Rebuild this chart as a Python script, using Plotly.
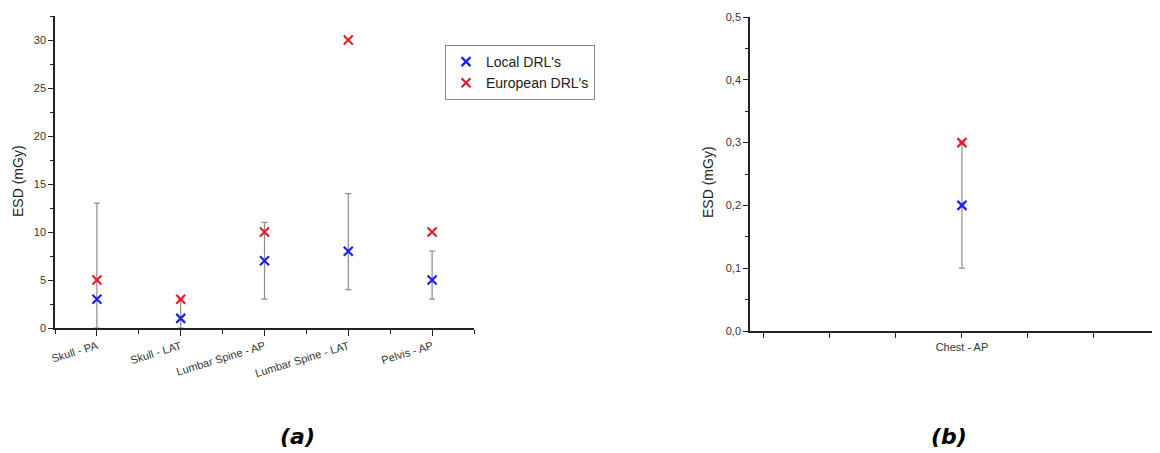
import plotly.graph_objects as go

# ---- data (a) ----
categories_a = ["Skull - PA", "Skull - LAT", "Lumbar Spine - AP", "Lumbar Spine - LAT", "Pelvis - AP"]
local_a = [3, 1, 7, 8, 5]
european_a = [5, 3, 10, 30, 10]
min_a = [0, 0, 3, 4, 3]
max_a = [13, 3, 11, 14, 8]

# ---- data (b) ----
categories_b = ["Chest - AP"]
local_b = [0.2]
european_b = [0.3]
min_b = [0.1]
max_b = [0.3]

yticks_a = [0, 5, 10, 15, 20, 25, 30]
yticks_b = [0.0, 0.1, 0.2, 0.3, 0.4, 0.5]
yticktext_b = ["0,0", "0,1", "0,2", "0,3", "0,4", "0,5"]

OFF = 8  # page body margin
W, H = 1160 - OFF, 453 - OFF
BLUE = "#1f1fef"
RED = "#e01e2a"
ERR = "#8c8c8c"
TICKFONT = dict(family="Liberation Sans, Arial", size=11, color="#333")

xa = list(range(len(categories_a)))
xb = [0]

fig = go.Figure()

def add_series(x, local, eur, mn, mx, xref, yref, showlegend):
    fig.add_trace(go.Scatter(
        x=x, y=local, mode="markers", name="Local DRL's",
        marker=dict(symbol="x-thin-open", size=9, color=BLUE, line=dict(color=BLUE, width=2.2)),
        error_y=dict(type="data", symmetric=False,
                     array=[b - a for a, b in zip(local, mx)],
                     arrayminus=[a - b for a, b in zip(local, mn)],
                     color=ERR, thickness=1.2, width=3),
        xaxis=xref, yaxis=yref, showlegend=showlegend, legendrank=1))
    fig.add_trace(go.Scatter(
        x=x, y=eur, mode="markers", name="European DRL's",
        marker=dict(symbol="x-thin-open", size=9, color=RED, line=dict(color=RED, width=2.2)),
        xaxis=xref, yaxis=yref, showlegend=showlegend, legendrank=2))

add_series(xa, local_a, european_a, min_a, max_a, "x", "y", True)
add_series(xb, local_b, european_b, min_b, max_b, "x2", "y2", False)

def px_x(p):
    return (p - OFF) / W

def px_y(p):
    return (H - (p - OFF)) / H

axis_common = dict(showline=True, linecolor="#222", linewidth=1.5, ticks="outside",
                   tickcolor="#222", showgrid=False, zeroline=False, tickfont=TICKFONT,
                   automargin=False)

fig.update_layout(
    width=W, height=H, margin=dict(l=0, r=0, t=0, b=0, autoexpand=False),
    paper_bgcolor="white", plot_bgcolor="white",
    xaxis=dict(domain=[px_x(55), px_x(474)], range=[-0.5, 4.5], anchor="y",
               tickmode="array", tickvals=xa, ticktext=categories_a, tickangle=-17,
               ticklen=6, tickwidth=1.3,
               minor=dict(tickvals=[-0.5, 0.5, 1.5, 2.5, 3.5, 4.5], ticklen=4, ticks="outside",
                          tickcolor="#222", tickwidth=1.3),
               **axis_common),
    yaxis=dict(domain=[px_y(328), px_y(16)], range=[0, 32.5], anchor="x",
               tickmode="array", tickvals=yticks_a, ticklen=5, tickwidth=1.3,
               minor=dict(dtick=2.5, tick0=0, ticklen=3, ticks="outside", tickcolor="#222", tickwidth=1.3),
               **axis_common),
    xaxis2=dict(domain=[px_x(750), 1.0], range=[-3.21, 3.0], anchor="y2",
                tickmode="array", tickvals=[-3, -2, -1, 0, 1, 2, 3],
                ticktext=["", "", "", categories_b[0], "", "", ""],
                ticklen=5, tickwidth=1.3, **axis_common),
    yaxis2=dict(domain=[px_y(331), px_y(17)], range=[0, 0.5], anchor="x2",
                tickmode="array", tickvals=yticks_b, ticktext=yticktext_b,
                ticklen=5, tickwidth=1.3,
                minor=dict(dtick=0.05, tick0=0, ticklen=3, ticks="outside", tickcolor="#222", tickwidth=1.3),
                **axis_common),
    legend=dict(x=px_x(445), y=px_y(45), xanchor="left", yanchor="top",
                bordercolor="#888", borderwidth=1, bgcolor="white",
                font=dict(family="Liberation Sans, Arial", size=14, color="#222"),
                tracegroupgap=0, itemwidth=30),
    showlegend=True,
)

ann_font = dict(family="Liberation Sans, Arial", size=14, color="#222")
fig.add_annotation(x=px_x(18), y=px_y(181), xref="paper", yref="paper", text="ESD (mGy)",
                   xanchor="center", yanchor="middle",
                   textangle=-90, showarrow=False, font=ann_font)
fig.add_annotation(x=px_x(708), y=px_y(182), xref="paper", yref="paper", text="ESD (mGy)",
                   xanchor="center", yanchor="middle",
                   textangle=-90, showarrow=False, font=ann_font)

lab_font = dict(family="DejaVu Sans", size=22, color="black")
fig.add_annotation(x=px_x(297), y=px_y(436), xref="paper", yref="paper", text="<b><i>(a)</i></b>",
                   xanchor="center", yanchor="middle", showarrow=False, font=lab_font)
fig.add_annotation(x=px_x(949), y=px_y(436), xref="paper", yref="paper", text="<b><i>(b)</i></b>",
                   xanchor="center", yanchor="middle", showarrow=False, font=lab_font)

fig.write_html("out.html")
